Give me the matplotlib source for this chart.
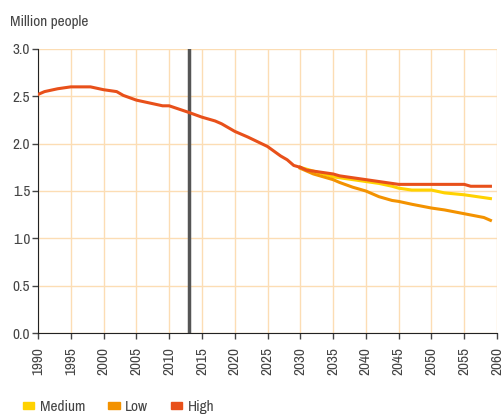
import matplotlib.pyplot as plt
import numpy as np
from matplotlib.patches import Patch
from matplotlib import font_manager as fm

# shared history 1990-2030
years_hist = [1990, 1991, 1993, 1995, 1998, 2000, 2002, 2003, 2005, 2007, 2009, 2010,
              2013, 2015, 2017, 2018, 2019, 2020, 2021, 2022, 2025, 2027, 2028, 2029, 2030]
pop_hist = [2.52, 2.55, 2.58, 2.60, 2.60, 2.57, 2.55, 2.51, 2.46, 2.43, 2.40, 2.40,
            2.33, 2.28, 2.24, 2.21, 2.17, 2.13, 2.10, 2.07, 1.97, 1.87, 1.83, 1.77, 1.75]

# projections after 2030
years_high = [2030, 2031, 2032, 2033, 2034, 2035, 2036, 2037, 2038, 2039, 2040, 2041,
              2042, 2043, 2044, 2045, 2050, 2055, 2056, 2059]
pop_high = [1.75, 1.72, 1.71, 1.70, 1.69, 1.68, 1.66, 1.65, 1.64, 1.63, 1.62, 1.61,
            1.60, 1.59, 1.58, 1.57, 1.57, 1.57, 1.55, 1.55]

years_med = [2030, 2031, 2032, 2033, 2035, 2037, 2040, 2042, 2044, 2045, 2047, 2050,
             2052, 2055, 2057, 2059]
pop_med = [1.75, 1.73, 1.71, 1.69, 1.65, 1.63, 1.60, 1.58, 1.55, 1.53, 1.51, 1.51,
           1.48, 1.46, 1.44, 1.42]

years_low = [2030, 2031, 2032, 2033, 2035, 2036, 2038, 2040, 2041, 2042, 2044, 2045,
             2047, 2050, 2052, 2055, 2058, 2059]
pop_low = [1.74, 1.71, 1.68, 1.66, 1.62, 1.59, 1.54, 1.50, 1.47, 1.44, 1.40, 1.39,
           1.36, 1.32, 1.30, 1.26, 1.22, 1.19]

base_year = 2013

c_med = '#FFD200'
c_low = '#F39200'
c_high = '#E8501A'
grid_c = '#FCDDB4'
txt_c = '#444444'

# the original uses a condensed face, take a narrow one if installed
installed = {f.name for f in fm.fontManager.ttflist}
cond_names = {f.name for f in fm.fontManager.ttflist if f.stretch == 'condensed'}
if 'Liberation Sans Narrow' in installed:
    plt.rcParams['font.family'] = ['Liberation Sans Narrow', 'DejaVu Sans']
elif cond_names:
    plt.rcParams['font.family'] = [sorted(cond_names)[0], 'DejaVu Sans']
    plt.rcParams['font.stretch'] = 'condensed'
else:
    plt.rcParams['font.family'] = ['Roboto', 'DejaVu Sans']
fs = 11

fig = plt.figure(figsize=(5.03, 4.15), dpi=100)
ax = fig.add_axes([38/503, 1-333/415, 459/503, 284/415])

ax.set_xlim(1990, 2060)
ax.set_ylim(0, 3.0)

ax.set_xticks(np.arange(1990, 2061, 5))
ax.set_yticks(np.arange(0, 3.01, 0.5))
ax.set_yticklabels(['%.1f' % v for v in np.arange(0, 3.01, 0.5)])
ax.set_xticklabels([str(y) for y in range(1990, 2061, 5)], rotation=90)

ax.grid(True, color=grid_c, linewidth=1.0)
ax.set_axisbelow(True)
for s in ['top', 'right']:
    ax.spines[s].set_visible(False)
ax.spines['left'].set_color('#222222')
ax.spines['bottom'].set_color('#222222')
ax.tick_params(axis='both', colors=txt_c, labelsize=fs, length=4, width=1)
ax.tick_params(axis='y', pad=1.5)
ax.tick_params(axis='x', pad=6)

ax.axvline(base_year, color='#555555', linewidth=2.5, zorder=2)

ax.plot(years_med, pop_med, color=c_med, linewidth=2.2, zorder=3)
ax.plot(years_low, pop_low, color=c_low, linewidth=2.2, zorder=4)
ax.plot(years_high, pop_high, color=c_high, linewidth=2.2, zorder=5)
ax.plot(years_hist, pop_hist, color=c_high, linewidth=2.2, zorder=6)

fig.text(10/503, 1-22/415, 'Million people', color=txt_c, fontsize=fs, va='center')

handles = [Patch(color=c_med, label='Medium'),
           Patch(color=c_low, label='Low'),
           Patch(color=c_high, label='High')]
fig.legend(handles=handles, loc='center left', bbox_to_anchor=(23/503, 1-407/415),
           ncol=3, frameon=False, fontsize=fs, handlelength=0.75, handleheight=0.3,
           handletextpad=0.35, columnspacing=1.5, labelcolor=txt_c,
           borderpad=0, borderaxespad=0)

fig.savefig('out.png', dpi=100)
